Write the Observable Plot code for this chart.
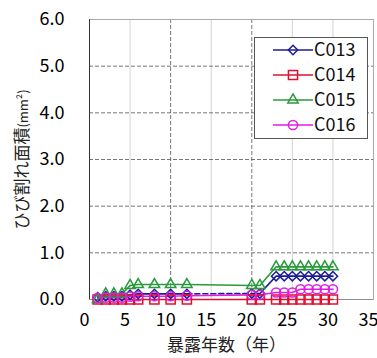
<!DOCTYPE html>
<html><head><meta charset="utf-8">
<script src="https://cdn.jsdelivr.net/npm/d3@7"></script>
<script src="https://cdn.jsdelivr.net/npm/@observablehq/plot@0.6"></script>
<style>
body{margin:0;background:#fff;}
#wrap{position:relative;width:377px;height:358px;overflow:hidden;background:#fff;}
#legend{position:absolute;left:254px;top:37px;}
</style></head>
<body><div id="wrap"></div>
<script>
const years = [1,2,3,4,5,6,8,10,12,20,21,23,24,25,26,27,28,29,30];
const c013 = [0.05,0.07,0.07,0.07,0.1,0.12,0.12,0.12,0.12,0.13,0.13,0.5,0.5,0.5,0.5,0.5,0.5,0.5,0.5];
const c014 = [0,0,0,0,0,0,0,0,0,0,0,0,0,0,0,0,0,0,0];
const c015 = [0,0.12,0.12,0.12,0.3,0.32,0.32,0.32,0.32,0.3,0.3,0.7,0.7,0.7,0.7,0.7,0.7,0.7,0.7];
const c016 = [0.03,0.04,0.04,0.04,0.06,0.07,0.07,0.07,0.08,0.1,0.1,0.15,0.15,0.15,0.22,0.22,0.22,0.22,0.22];
const seriesNames = ["C013","C014","C015","C016"];
const xTicks = [0,5,10,15,20,25,30,35];
const yTicks = [0,1,2,3,4,5,6];
const xLabel = "暴露年数（年）";
const yLabelMain = "ひび割れ面積";
const yLabelUnit = "(mm²)";

const colors = {C013:"#1c1c96", C014:"#e0102e", C015:"#2a9a3c", C016:"#e01ee0"};
const symbols = {C013:"diamond2", C014:"square2", C015:"triangle2", C016:"circle"};
const radii = {C013:4.2, C014:5.8, C015:5.0, C016:4.6};
const values = {C013:c013, C014:c014, C015:c015, C016:c016};

const rows = s => years.map((x,i)=>({x, y: values[s][i], s}));
const b = rows("C013");
const numFont = "'Liberation Sans Narrow', 'Noto Sans CJK JP', sans-serif";
const jpFont = "'Noto Sans CJK JP', sans-serif";

const lineMarks = [];
const dotMarks = [];
for (const s of seriesNames) {
  const d = rows(s);
  if (s === "C013") {
    lineMarks.push(Plot.line(b.slice(0,9), {x:"x", y:"y", stroke:colors[s], strokeWidth:1.6}));
    lineMarks.push(Plot.line(b.slice(8,10), {x:"x", y:"y", stroke:colors[s], strokeWidth:1.6, strokeDasharray:"5,3"}));
    lineMarks.push(Plot.line(b.slice(9), {x:"x", y:"y", stroke:colors[s], strokeWidth:1.6}));
  } else {
    lineMarks.push(Plot.line(d, {x:"x", y:"y", stroke:colors[s], strokeWidth:1.6}));
  }
  dotMarks.push(Plot.dot(d, {x:"x", y:"y", stroke:colors[s], fill:"none", symbol:symbols[s], r:radii[s], strokeWidth:1.5}));
}

const chart = Plot.plot({
  width:377, height:358,
  marginLeft:89, marginRight:4, marginTop:19, marginBottom:59,
  style:{background:"#fff", overflow:"visible"},
  x:{domain:[0,35]},
  y:{domain:[0,6]},
  marks:[
    Plot.ruleX([5,15,25,30], {stroke:"#c8c8c8", strokeWidth:0.8}),
    Plot.ruleX([10,20], {stroke:"#555", strokeWidth:0.8, strokeDasharray:"4,2"}),
    Plot.ruleY([1,2,3,4,5], {stroke:"#555", strokeWidth:0.8, strokeDasharray:"4,2"}),
    Plot.frame({stroke:"#aaa"}),
    Plot.ruleX([0], {stroke:"#333", strokeWidth:1}),
    Plot.ruleY([0], {stroke:"#888", strokeWidth:0.8}),
    ...lineMarks,
    ...dotMarks,
    Plot.axisX(xTicks, {tickSize:0, tickPadding:14, fontSize:18, fontFamily:numFont, dx:-5, label:null}),
    Plot.axisY(yTicks, {tickSize:0, tickPadding:25, fontSize:18, fontFamily:numFont, tickFormat:d3.format(".1f"), label:null, letterSpacing:"2px"}),
    Plot.text([xLabel], {frameAnchor:"bottom", lineAnchor:"middle", dy:46, dx:-5, fontSize:17, fontFamily:jpFont, fill:"#222"}),
    Plot.text([yLabelMain + yLabelUnit], {frameAnchor:"left", textAnchor:"middle", lineAnchor:"middle", dx:-67, rotate:-90, fontSize:17, fontFamily:jpFont, fill:"#222"})
  ]
});
const wrap = document.getElementById("wrap");
wrap.appendChild(chart);

// smaller unit part of y label
d3.select(chart).selectAll("text").filter(function(){ return this.textContent === yLabelMain + yLabelUnit; })
  .each(function(){
    const t = d3.select(this);
    t.text(null);
    t.append("tspan").text(yLabelMain);
    t.append("tspan").attr("font-size", 13).attr("font-family", numFont).text(yLabelUnit);
  });

// legend
const lg = document.createElement("div");
lg.id = "legend";
wrap.appendChild(lg);
const lw = 114, lh = 102;
const lsvg = d3.select(lg).append("svg").attr("width", lw).attr("height", lh).style("overflow","visible");
lsvg.append("rect").attr("x",0.5).attr("y",0.5).attr("width",lw-1).attr("height",lh-1).attr("fill","#fff").attr("stroke","#555");
const symMap = {diamond2:d3.symbolDiamond2, square2:d3.symbolSquare2, triangle2:d3.symbolTriangle2, circle:d3.symbolCircle};
seriesNames.forEach((s,i)=>{
  const y = 13 + i*25;
  const g = lsvg.append("g").attr("transform", `translate(0,${y})`);
  g.append("line").attr("x1",19).attr("x2",59).attr("y1",0).attr("y2",0).attr("stroke",colors[s]).attr("stroke-width",1.6);
  g.append("path").attr("transform","translate(39,0)")
    .attr("d", d3.symbol(symMap[symbols[s]], Math.PI*radii[s]*radii[s])())
    .attr("fill", "none").attr("stroke", colors[s]).attr("stroke-width",1.5);
  g.append("text").attr("x",60).attr("y",0).attr("dy","0.36em").attr("font-size",18)
    .attr("font-family", numFont).attr("fill","#111").text(s);
});
</script></body></html>
